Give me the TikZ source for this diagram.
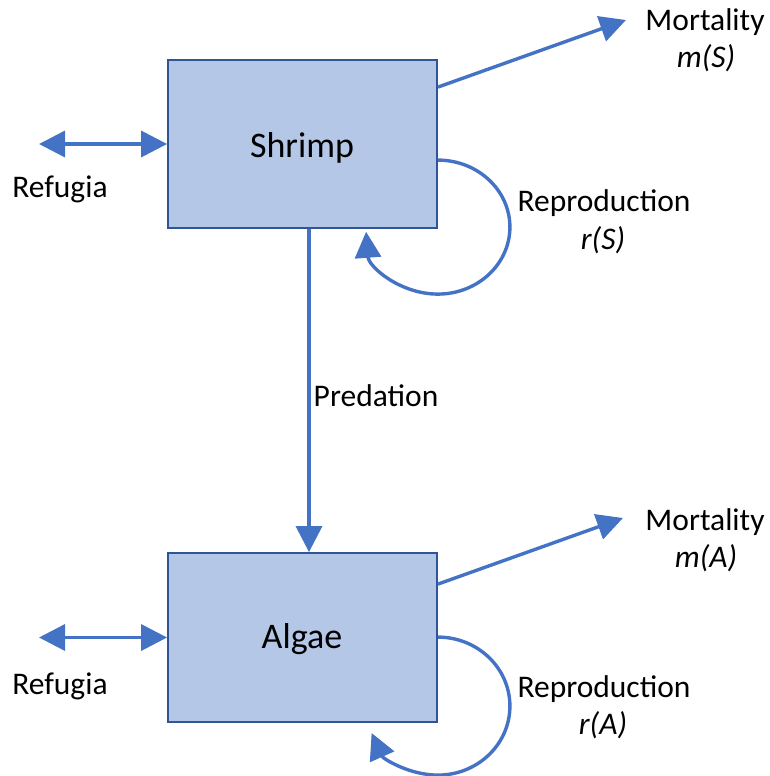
\documentclass[tikz,border=0pt]{standalone}
\usepackage{fontspec}
\setmainfont{Carlito}
\usetikzlibrary{arrows.meta}
\definecolor{boxfill}{HTML}{B4C7E7}
\definecolor{boxline}{HTML}{2F5597}
\definecolor{arrowblue}{HTML}{4472C4}
\begin{document}
\begin{tikzpicture}[x=1pt,y=1pt,
  popbox/.style={draw=boxline,fill=boxfill,line width=1.8pt,minimum width=269pt,minimum height=168pt,inner sep=0pt,font=\fontsize{36}{40}\selectfont},
  flow/.style={draw=arrowblue,line width=3.4pt,-{Triangle[length=26pt,width=26pt]}},
  both/.style={draw=arrowblue,line width=3.4pt,{Triangle[length=26pt,width=26pt]}-{Triangle[length=26pt,width=26pt]}},
  lbl/.style={anchor=base,inner sep=0pt,font=\fontsize{31.5}{36}\selectfont},
  ilbl/.style={lbl,font=\fontsize{31.5}{36}\selectfont\itshape}]
\useasboundingbox (0,0) rectangle (769,-776);
% boxes
\node[popbox] (shrimp) at (302.5,-144) {};
\node[popbox,minimum height=169pt] (algae) at (302.5,-637.5) {};
\node[lbl,font=\fontsize{36}{40}\selectfont] (shrimpT) at (302,-157) {Shrimp};
\node[lbl,font=\fontsize{36}{40}\selectfont] (algaeT) at (302,-648) {Algae};
% refugia
\coordinate (refS) at (39,-144);
\coordinate (refA) at (39,-637.5);
\draw[both] (refS) -- (shrimp.west);
\draw[both] (refA) -- (algae.west);
\node[lbl] (refST) at (60,-197) {Refugia};
\node[lbl] (refAT) at (60,-694) {Refugia};
% predation
\draw[flow] (shrimp.south -| 309,0) -- (algae.north -| 309,0);
\node[lbl] (predT) at (376,-406) {Predation};
% mortality
\coordinate (mS) at (626,-20);
\coordinate (mA) at (623,-518);
\draw[flow] ([yshift=-28pt]shrimp.north east) -- (mS);
\draw[flow] ([yshift=-32pt]algae.north east) -- (mA);
\node[lbl] (mortST) at (705,-31) {Mortality};
\node[ilbl] (mST) at (706,-67) {m(S)};
\node[lbl] (mortAT) at (705,-530) {Mortality};
\node[ilbl] (mAT) at (706,-567) {m(A)};
% reproduction loops
\draw[flow] ([yshift=-101pt]shrimp.north east) arc[start angle=90,end angle=-176,x radius=72,y radius=67];
\draw[flow] ([yshift=-85pt]algae.north east) arc[start angle=90,end angle=-157,x radius=72,y radius=69];
\node[lbl] (repST) at (604,-211) {Reproduction};
\node[ilbl] (rST) at (603,-249) {r(S)};
\node[lbl] (repAT) at (604,-697) {Reproduction};
\node[ilbl] (rAT) at (603,-734) {r(A)};
\end{tikzpicture}
\end{document}
